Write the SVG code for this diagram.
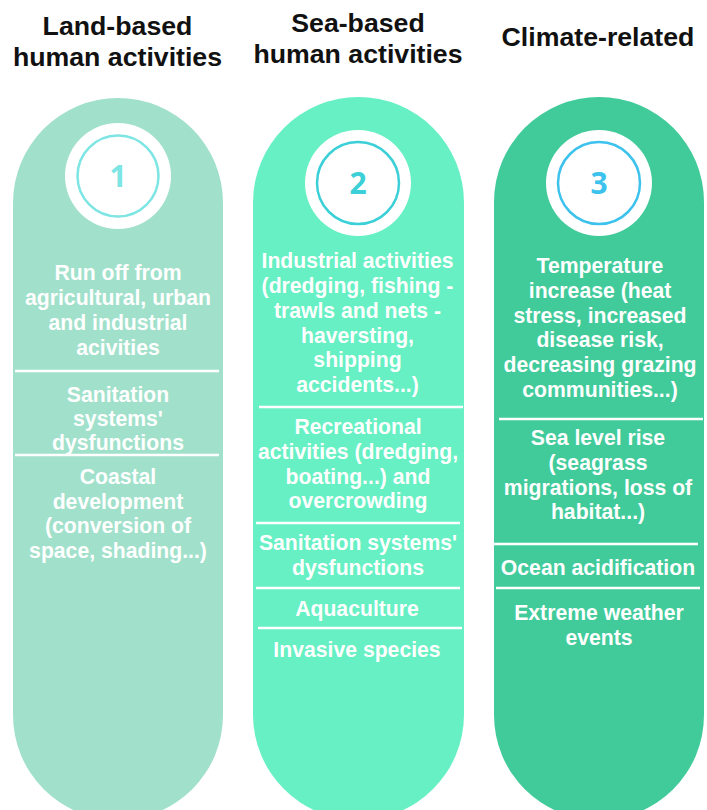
<svg xmlns="http://www.w3.org/2000/svg" width="707" height="810" viewBox="0 0 707 810">
<style>
.hd{font-family:"Liberation Sans",Arial,sans-serif;font-weight:bold;font-size:26.7px;fill:#111;text-anchor:middle}
.tx{font-family:"Liberation Sans",Arial,sans-serif;font-weight:bold;font-size:21.2px;fill:#fff;text-anchor:middle}
.num{font-family:"Open Sans","Noto Sans",sans-serif;font-weight:bold;font-size:30px;text-anchor:middle}
.sep{stroke:#fff;stroke-width:2.5}
.ring{fill:none;stroke-width:2.5}
</style>
<rect width="707" height="810" fill="#fff"/>
<g id="headers">
<text class="hd" x="117.5" y="35">Land-based</text>
<text class="hd" x="117.5" y="66">human activities</text>
<text class="hd" x="358" y="32">Sea-based</text>
<text class="hd" x="358" y="63">human activities</text>
<text class="hd" x="598" y="46">Climate-related</text>
</g>
<g id="col1">
<rect x="13" y="98" width="210" height="722" rx="105" fill="#a1e1cb"/>
<circle cx="118" cy="176" r="53" fill="#fff"/>
<circle class="ring" cx="118" cy="176" r="40.5" stroke="#7de5e3"/>
<text class="num" x="118" y="187" fill="#7de5e3">1</text>
<text class="tx" x="118" y="280">Run off from</text>
<text class="tx" x="118" y="305">agricultural, urban</text>
<text class="tx" x="118" y="330">and industrial</text>
<text class="tx" x="118" y="355">acivities</text>
<line class="sep" x1="15" y1="371" x2="219" y2="371"/>
<text class="tx" x="118" y="402">Sanitation</text>
<text class="tx" x="118" y="426">systems'</text>
<text class="tx" x="118" y="450">dysfunctions</text>
<line class="sep" x1="15" y1="455" x2="219" y2="455"/>
<text class="tx" x="118" y="484">Coastal</text>
<text class="tx" x="118" y="509">development</text>
<text class="tx" x="118" y="533">(conversion of</text>
<text class="tx" x="118" y="558">space, shading...)</text>
</g>
<g id="col2">
<rect x="253" y="97" width="211" height="723" rx="105.5" fill="#66f0c3"/>
<circle cx="358" cy="183" r="53" fill="#fff"/>
<circle class="ring" cx="358" cy="183" r="41" stroke="#3bd0d7"/>
<text class="num" x="358" y="193.5" fill="#3bd0d7">2</text>
<text class="tx" x="357.5" y="268">Industrial activities</text>
<text class="tx" x="357.5" y="293">(dredging, fishing -</text>
<text class="tx" x="357.5" y="318">trawls and nets -</text>
<text class="tx" x="357.5" y="343">haversting,</text>
<text class="tx" x="357.5" y="367">shipping</text>
<text class="tx" x="357.5" y="392">accidents...)</text>
<line class="sep" x1="259" y1="407" x2="463" y2="407"/>
<text class="tx" x="358" y="434">Recreational</text>
<text class="tx" x="358" y="459">activities (dredging,</text>
<text class="tx" x="358" y="484">boating...) and</text>
<text class="tx" x="358" y="508">overcrowding</text>
<line class="sep" x1="256" y1="523" x2="460" y2="523"/>
<text class="tx" x="358" y="550">Sanitation systems'</text>
<text class="tx" x="358" y="575">dysfunctions</text>
<line class="sep" x1="256" y1="588" x2="460" y2="588"/>
<text class="tx" x="357" y="616">Aquaculture</text>
<line class="sep" x1="258" y1="628" x2="462" y2="628"/>
<text class="tx" x="357" y="657">Invasive species</text>
</g>
<g id="col3">
<rect x="494" y="97" width="210" height="723" rx="105" fill="#41cb9b"/>
<circle cx="599" cy="183" r="53" fill="#fff"/>
<circle class="ring" cx="599" cy="183" r="41" stroke="#3cc2ed"/>
<text class="num" x="599" y="193.5" fill="#3cc2ed">3</text>
<text class="tx" x="600" y="273">Temperature</text>
<text class="tx" x="600" y="298">increase (heat</text>
<text class="tx" x="600" y="323">stress, increased</text>
<text class="tx" x="600" y="347">disease risk,</text>
<text class="tx" x="600" y="372">decreasing grazing</text>
<text class="tx" x="600" y="397">communities...)</text>
<line class="sep" x1="499" y1="419" x2="703" y2="419"/>
<text class="tx" x="598" y="445">Sea level rise</text>
<text class="tx" x="598" y="470">(seagrass</text>
<text class="tx" x="598" y="495">migrations, loss of</text>
<text class="tx" x="598" y="519">habitat...)</text>
<line class="sep" x1="494" y1="544" x2="698" y2="544"/>
<text class="tx" x="598" y="575">Ocean acidification</text>
<line class="sep" x1="496" y1="588" x2="700" y2="588"/>
<text class="tx" x="599" y="620">Extreme weather</text>
<text class="tx" x="599" y="645">events</text>
</g>
<g id="connectors"/>
</svg>
